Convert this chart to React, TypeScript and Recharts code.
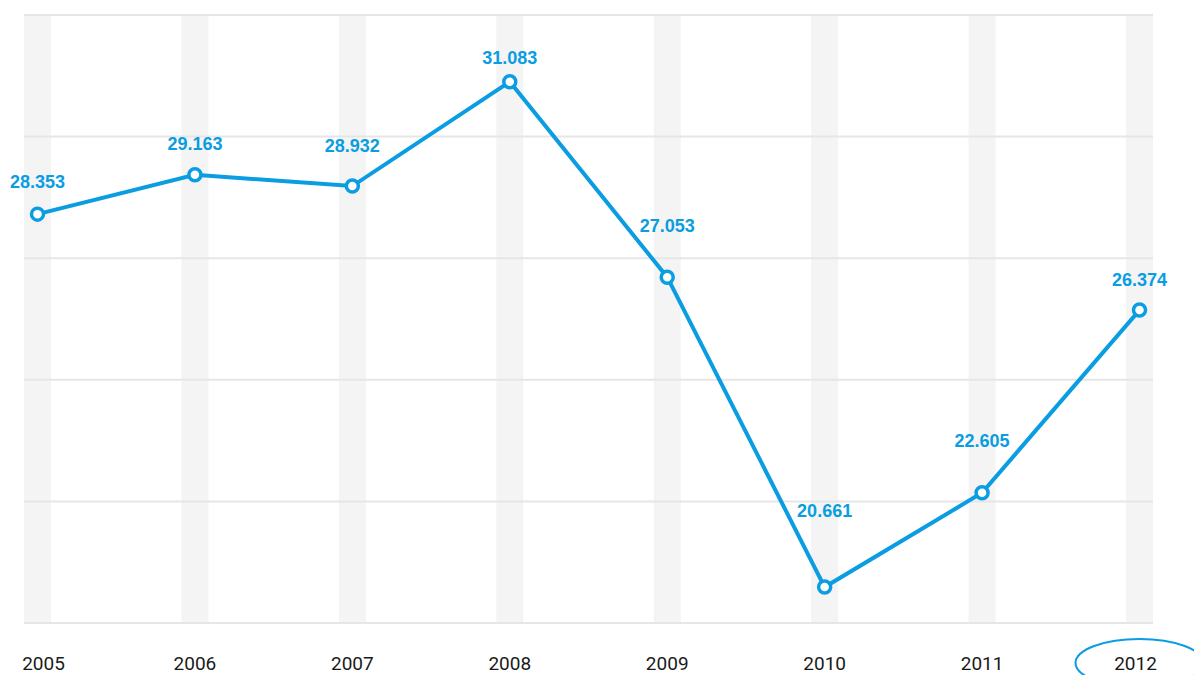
import React from "react";
import { LineChart, Line, XAxis, YAxis, ReferenceLine, LabelList } from "recharts";

const years = ["2005", "2006", "2007", "2008", "2009", "2010", "2011", "2012"];
const values = [28.353, 29.163, 28.932, 31.083, 27.053, 20.661, 22.605, 26.374];
const labels = ["28.353", "29.163", "28.932", "31.083", "27.053", "20.661", "22.605", "26.374"];
const gridTicks = [20, 22.5, 25, 27.5, 30, 32.5];

// how far each value label sits above its point (px)
const labelLift = [26, 25, 34, 18, 45, 70, 46, 24];

const BLUE = "#0a9de1";
const GRID = "#e6e6e6";
const BAND = "#f4f4f4";

const data = years.map((year, i) => ({ year, value: values[i], label: labels[i] }));

const YearTick = ({ x, y, payload, index }: any) => {
  const last = index === years.length - 1;
  const shift = index === 0 ? 6 : last ? -4 : 0;
  return (
    <g>
      {last && (
        <ellipse cx={x} cy={y + 40} rx={64} ry={24} fill="none" stroke={BLUE} strokeWidth={2} />
      )}
      <text
        x={x + shift}
        y={y + 47}
        textAnchor="middle"
        fontFamily="Roboto, sans-serif"
        fontSize={19}
        fill="#1a1a1a"
      >
        {payload.value}
      </text>
    </g>
  );
};

const ValueLabel = ({ x, y, index }: any) => (
  <text
    x={x}
    y={y - labelLift[index]}
    textAnchor="middle"
    fontFamily="'Liberation Sans', Arial, sans-serif"
    fontWeight="bold"
    fontSize={18}
    fill={BLUE}
  >
    {labels[index]}
  </text>
);

export default function App() {
  return (
    <div style={{ position: "absolute", left: 0, top: 0, background: "#fff" }}>
      <LineChart
        width={1194}
        height={675}
        data={data}
        margin={{ top: 15, right: 41, bottom: 12, left: 24 }}
      >
        {years.map((yr) => (
          <ReferenceLine key={yr} x={yr} yAxisId="grid" stroke={BAND} strokeWidth={27} zIndex={-60} />
        ))}
        {gridTicks.map((t) => (
          <ReferenceLine key={t} y={t} yAxisId="grid" stroke={GRID} strokeWidth={2} zIndex={-50} />
        ))}
        <XAxis
          dataKey="year"
          axisLine={false}
          tickLine={false}
          tickSize={0}
          tickMargin={0}
          height={40}
          interval={0}
          padding={{ left: 13.5, right: 13.5 }}
          tick={<YearTick />}
        />
        <YAxis yAxisId="grid" hide domain={[20, 32.5]} ticks={gridTicks} allowDataOverflow />
        <YAxis yAxisId="vals" hide domain={[19.92, 32.46]} allowDataOverflow />
        <Line
          yAxisId="vals"
          type="linear"
          dataKey="value"
          stroke={BLUE}
          strokeWidth={4}
          dot={{ r: 6, fill: "#fff", stroke: BLUE, strokeWidth: 3.5 }}
          activeDot={false}
          isAnimationActive={false}
        >
          <LabelList dataKey="label" content={<ValueLabel />} />
        </Line>
      </LineChart>
    </div>
  );
}
